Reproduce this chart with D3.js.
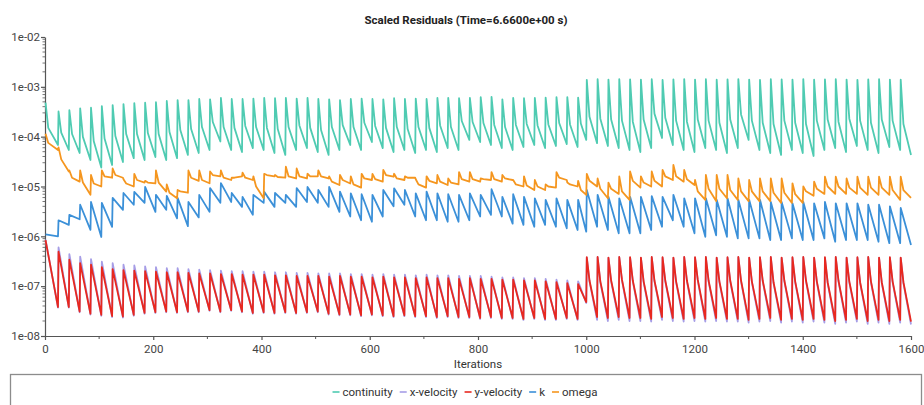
<!DOCTYPE html>
<html>
<head>
<meta charset="utf-8">
<script src="https://cdn.jsdelivr.net/npm/d3@7"></script>
<style>
  body { margin: 0; background: #fff; }
  svg { display: block; font-family: Roboto, "Open Sans", sans-serif; }
</style>
</head>
<body>
<div id="plot"></div>
<script>
// ---- data (one entry per time step) ----
// first iteration of every time step
const stepStart = [1, 25, 45, 65, 85, 105, 125, 145, 165, 185, 205, 225, 245, 265, 285, 305, 325, 345, 365, 385,
  405, 425, 445, 465, 485, 505, 525, 545, 565, 585, 605, 625, 645, 665, 685, 705, 725, 745, 765, 785,
  805, 825, 845, 865, 885, 905, 925, 945, 965, 985, 1001, 1021, 1041, 1061, 1081, 1101, 1121, 1141, 1161, 1181,
  1201, 1221, 1241, 1261, 1281, 1301, 1321, 1341, 1361, 1381, 1401, 1421, 1441, 1461, 1481, 1501, 1521, 1541, 1561, 1581];
const lastIter = 1600;

const seriesNames = ["continuity", "x-velocity", "y-velocity", "k", "omega"];
const xTicks = [0, 200, 400, 600, 800, 1000, 1200, 1400, 1600];
const yTicks = [1e-2, 1e-3, 1e-4, 1e-5, 1e-6, 1e-7, 1e-8];

// continuity
const contPeak = [4.8e-4, 3.2e-4, 3.4e-4, 3.7e-4, 3.8e-4, 4.1e-4, 4.3e-4, 4.5e-4, 4.7e-4, 4.8e-4,
  4.9e-4, 5.2e-4, 5.4e-4, 5.4e-4, 5.7e-4, 5.6e-4, 6.0e-4, 5.7e-4, 5.7e-4, 5.8e-4,
  6.0e-4, 5.9e-4, 6.0e-4, 5.8e-4, 6.0e-4, 5.7e-4, 5.6e-4, 5.4e-4, 5.7e-4, 5.8e-4,
  5.7e-4, 5.6e-4, 5.9e-4, 5.7e-4, 5.8e-4, 5.7e-4, 6.0e-4, 6.0e-4, 5.9e-4, 6.0e-4,
  6.2e-4, 6.3e-4, 5.6e-4, 6.0e-4, 5.9e-4, 6.0e-4, 6.1e-4, 6.2e-4, 6.2e-4, 6.1e-4,
  1.38e-3, 1.42e-3, 1.40e-3, 1.43e-3, 1.41e-3, 1.40e-3, 1.42e-3, 1.38e-3, 1.41e-3, 1.43e-3,
  1.40e-3, 1.42e-3, 1.39e-3, 1.41e-3, 1.43e-3, 1.40e-3, 1.38e-3, 1.42e-3, 1.41e-3, 1.40e-3,
  1.43e-3, 1.39e-3, 1.41e-3, 1.42e-3, 1.40e-3, 1.38e-3, 1.41e-3, 1.42e-3, 1.40e-3, 1.39e-3];
const contKnee = [1.5e-4, 1.2e-4, 1.13e-4, 9.9e-5, 8.2e-5, 9.2e-5, 1.03e-4, 1.13e-4, 1.13e-4, 1.18e-4,
  1.13e-4, 1.24e-4, 1.36e-4, 1.42e-4, 1.56e-4, 1.97e-4, 1.56e-4, 1.5e-4, 1.64e-4, 1.56e-4,
  1.5e-4, 1.42e-4, 1.56e-4, 1.68e-4, 1.5e-4, 1.36e-4, 1.56e-4, 1.7e-4, 1.56e-4, 1.9e-4,
  1.64e-4, 1.5e-4, 1.56e-4, 1.42e-4, 1.56e-4, 1.5e-4, 1.68e-4, 1.56e-4, 2.06e-4, 1.97e-4,
  1.88e-4, 1.72e-4, 1.56e-4, 1.72e-4, 1.8e-4, 1.68e-4, 1.76e-4, 1.88e-4, 1.76e-4, 1.84e-4,
  2.5e-4, 2.3e-4, 2.2e-4, 2.1e-4, 2.0e-4, 2.2e-4, 2.9e-4, 2.4e-4, 2.1e-4, 2.0e-4,
  2.2e-4, 2.1e-4, 1.9e-4, 2.2e-4, 2.8e-4, 2.1e-4, 1.9e-4, 1.8e-4, 2.1e-4, 1.9e-4,
  1.8e-4, 2.1e-4, 2.2e-4, 2.0e-4, 2.3e-4, 2.1e-4, 1.9e-4, 2.2e-4, 2.1e-4, 1.8e-4];
const contLow = [6.8e-5, 5.4e-5, 4.7e-5, 3.4e-5, 2.4e-5, 2.7e-5, 3.1e-5, 3.7e-5, 3.4e-5, 3.9e-5,
  3.4e-5, 3.7e-5, 4.3e-5, 4.7e-5, 5.4e-5, 8.0e-5, 5.4e-5, 4.9e-5, 5.9e-5, 5.4e-5,
  4.7e-5, 4.3e-5, 5.4e-5, 5.9e-5, 4.9e-5, 4.3e-5, 5.4e-5, 6.8e-5, 5.4e-5, 7.8e-5,
  5.9e-5, 4.9e-5, 5.4e-5, 4.7e-5, 5.4e-5, 4.9e-5, 5.9e-5, 5.4e-5, 8.6e-5, 7.8e-5,
  6.8e-5, 5.9e-5, 5.4e-5, 6.2e-5, 6.8e-5, 5.9e-5, 6.5e-5, 7.1e-5, 6.2e-5, 8.6e-5,
  7.4e-5, 6.5e-5, 5.9e-5, 5.4e-5, 4.9e-5, 5.9e-5, 9.4e-5, 6.8e-5, 5.4e-5, 4.9e-5,
  5.9e-5, 5.4e-5, 4.7e-5, 5.9e-5, 8.6e-5, 5.4e-5, 4.7e-5, 4.3e-5, 5.4e-5, 4.7e-5,
  4.1e-5, 5.4e-5, 5.9e-5, 4.9e-5, 6.5e-5, 5.4e-5, 4.7e-5, 6.2e-5, 5.4e-5, 4.3e-5];

// x-velocity
const vxPeak = [8.6e-7, 6.0e-7, 4.4e-7, 3.9e-7, 3.5e-7, 3.1e-7, 2.9e-7, 2.7e-7, 2.6e-7, 2.5e-7,
  2.4e-7, 2.3e-7, 2.3e-7, 2.2e-7, 2.15e-7, 2.1e-7, 2.05e-7, 2.0e-7, 2.0e-7, 1.95e-7,
  1.95e-7, 1.9e-7, 1.9e-7, 1.85e-7, 1.85e-7, 1.8e-7, 1.8e-7, 1.8e-7, 1.75e-7, 1.75e-7,
  1.7e-7, 1.75e-7, 1.7e-7, 1.7e-7, 1.65e-7, 1.7e-7, 1.65e-7, 1.65e-7, 1.6e-7, 1.6e-7,
  1.6e-7, 1.55e-7, 1.5e-7, 1.5e-7, 1.45e-7, 1.45e-7, 1.4e-7, 1.35e-7, 1.3e-7, 1.25e-7,
  3.75e-7, 3.8e-7, 3.7e-7, 3.8e-7, 3.75e-7, 3.7e-7, 3.8e-7, 3.75e-7, 3.7e-7, 3.8e-7,
  3.75e-7, 3.8e-7, 3.7e-7, 3.75e-7, 3.8e-7, 3.7e-7, 3.75e-7, 3.8e-7, 3.7e-7, 3.75e-7,
  3.8e-7, 3.7e-7, 3.75e-7, 3.8e-7, 3.7e-7, 3.75e-7, 3.8e-7, 3.7e-7, 3.75e-7, 3.7e-7];
const vxKnee = [1.25e-7, 1.2e-7, 1.25e-7, 1.3e-7, 1.25e-7, 1.2e-7, 1.25e-7, 1.25e-7, 1.2e-7, 1.25e-7,
  1.3e-7, 1.25e-7, 1.2e-7, 1.25e-7, 1.25e-7, 1.2e-7, 1.25e-7, 1.15e-7, 1.25e-7, 1.2e-7,
  1.25e-7, 1.2e-7, 1.15e-7, 1.25e-7, 1.2e-7, 1.15e-7, 1.2e-7, 1.15e-7, 1.2e-7, 1.15e-7];
const vxLow = [3.7e-8, 3.7e-8, 3.0e-8, 2.7e-8, 2.55e-8, 2.4e-8, 2.35e-8, 2.55e-8, 2.8e-8, 2.9e-8,
  3.0e-8, 2.9e-8, 3.0e-8, 3.0e-8, 3.2e-8, 3.0e-8, 3.2e-8, 3.0e-8, 2.8e-8, 2.9e-8,
  2.8e-8, 2.9e-8, 2.8e-8, 2.9e-8, 3.0e-8, 2.7e-8, 2.6e-8, 2.6e-8, 2.5e-8, 2.6e-8,
  2.5e-8, 2.4e-8, 2.5e-8, 2.4e-8, 2.4e-8, 2.3e-8, 2.4e-8, 2.3e-8, 2.3e-8, 2.2e-8,
  2.3e-8, 2.2e-8, 2.2e-8, 2.1e-8, 2.2e-8, 2.1e-8, 2.1e-8, 2.2e-8, 2.1e-8, 4.6e-8,
  2.1e-8, 2.0e-8, 2.1e-8, 2.0e-8, 2.0e-8, 1.95e-8, 2.1e-8, 2.0e-8, 1.95e-8, 2.0e-8,
  1.95e-8, 2.0e-8, 1.95e-8, 1.95e-8, 1.85e-8, 1.95e-8, 2.0e-8, 1.85e-8, 1.95e-8, 1.85e-8,
  1.95e-8, 1.85e-8, 1.75e-8, 1.85e-8, 1.95e-8, 1.75e-8, 1.85e-8, 1.75e-8, 1.85e-8, 1.7e-8];

// y-velocity
const vyPeak = [8.4e-7, 4.9e-7, 3.4e-7, 2.9e-7, 2.7e-7, 2.4e-7, 2.2e-7, 2.1e-7, 2.05e-7, 2.0e-7,
  1.95e-7, 1.9e-7, 1.9e-7, 1.85e-7, 1.8e-7, 1.8e-7, 1.75e-7, 1.75e-7, 1.7e-7, 1.7e-7,
  1.7e-7, 1.65e-7, 1.65e-7, 1.6e-7, 1.6e-7, 1.6e-7, 1.55e-7, 1.6e-7, 1.55e-7, 1.55e-7,
  1.5e-7, 1.55e-7, 1.5e-7, 1.5e-7, 1.45e-7, 1.5e-7, 1.45e-7, 1.45e-7, 1.4e-7, 1.45e-7,
  1.4e-7, 1.4e-7, 1.35e-7, 1.35e-7, 1.3e-7, 1.3e-7, 1.25e-7, 1.2e-7, 1.15e-7, 1.1e-7,
  3.8e-7, 3.85e-7, 3.75e-7, 3.85e-7, 3.8e-7, 3.75e-7, 3.85e-7, 3.8e-7, 3.75e-7, 3.85e-7,
  3.8e-7, 3.85e-7, 3.75e-7, 3.8e-7, 3.85e-7, 3.75e-7, 3.8e-7, 3.85e-7, 3.75e-7, 3.8e-7,
  3.85e-7, 3.75e-7, 3.8e-7, 3.85e-7, 3.75e-7, 3.8e-7, 3.85e-7, 3.75e-7, 3.8e-7, 3.75e-7];
const vyKnee = [1.3e-7, 1.25e-7, 1.3e-7, 1.35e-7, 1.3e-7, 1.25e-7, 1.3e-7, 1.3e-7, 1.25e-7, 1.3e-7,
  1.35e-7, 1.3e-7, 1.25e-7, 1.3e-7, 1.3e-7, 1.25e-7, 1.3e-7, 1.2e-7, 1.3e-7, 1.25e-7,
  1.3e-7, 1.25e-7, 1.2e-7, 1.3e-7, 1.25e-7, 1.2e-7, 1.25e-7, 1.2e-7, 1.25e-7, 1.2e-7];
const vyLow = [3.8e-8, 3.8e-8, 3.1e-8, 2.8e-8, 2.65e-8, 2.5e-8, 2.45e-8, 2.65e-8, 2.9e-8, 3.0e-8,
  3.1e-8, 3.0e-8, 3.1e-8, 3.1e-8, 3.3e-8, 3.1e-8, 3.3e-8, 3.1e-8, 2.9e-8, 3.0e-8,
  2.9e-8, 3.0e-8, 2.9e-8, 3.0e-8, 3.1e-8, 2.8e-8, 2.7e-8, 2.7e-8, 2.6e-8, 2.7e-8,
  2.6e-8, 2.5e-8, 2.6e-8, 2.5e-8, 2.5e-8, 2.4e-8, 2.5e-8, 2.4e-8, 2.4e-8, 2.3e-8,
  2.4e-8, 2.3e-8, 2.3e-8, 2.2e-8, 2.3e-8, 2.2e-8, 2.2e-8, 2.3e-8, 2.2e-8, 4.8e-8,
  2.4e-8, 2.3e-8, 2.4e-8, 2.3e-8, 2.3e-8, 2.2e-8, 2.4e-8, 2.3e-8, 2.2e-8, 2.3e-8,
  2.2e-8, 2.3e-8, 2.2e-8, 2.2e-8, 2.1e-8, 2.2e-8, 2.3e-8, 2.1e-8, 2.2e-8, 2.1e-8,
  2.2e-8, 2.1e-8, 2.0e-8, 2.1e-8, 2.2e-8, 2.0e-8, 2.1e-8, 2.0e-8, 2.1e-8, 1.95e-8];

// k
const kPeak = [1.1e-6, 2.1e-6, 2.7e-6, 4.3e-6, 4.9e-6, 4.7e-6, 5.9e-6, 7.4e-6, 7.8e-6, 9.8e-6,
  6.8e-6, 6.5e-6, 5.9e-6, 4.9e-6, 6.8e-6, 9.3e-6, 1.17e-5, 7.4e-6, 6.2e-6, 6.8e-6,
  7.8e-6, 7.4e-6, 6.8e-6, 9.3e-6, 9.8e-6, 8.5e-6, 9.8e-6, 7.9e-6, 7.3e-6, 7.0e-6,
  6.8e-6, 8.5e-6, 9.2e-6, 8.5e-6, 7.3e-6, 7.9e-6, 7.3e-6, 7.0e-6, 6.8e-6, 7.3e-6,
  6.8e-6, 8.8e-6, 6.2e-6, 7.0e-6, 6.2e-6, 5.8e-6, 5.4e-6, 5.8e-6, 5.4e-6, 5.4e-6,
  8.5e-6, 6.8e-6, 6.2e-6, 5.8e-6, 6.2e-6, 6.2e-6, 6.4e-6, 6.2e-6, 6.8e-6, 5.8e-6,
  5.8e-6, 5.8e-6, 5.4e-6, 5.8e-6, 5.4e-6, 5.4e-6, 5.4e-6, 4.9e-6, 4.9e-6, 4.6e-6,
  4.9e-6, 4.6e-6, 4.9e-6, 4.6e-6, 4.6e-6, 4.6e-6, 4.3e-6, 4.3e-6, 4.0e-6, 3.7e-6];
const kLow = [1.0e-6, 1.7e-6, 2.2e-6, 1.35e-6, 9.7e-7, 1.55e-6, 3.4e-6, 4.3e-6, 4.7e-6, 3.1e-6,
  3.4e-6, 2.3e-6, 1.6e-6, 2.4e-6, 3.1e-6, 4.7e-6, 4.9e-6, 3.9e-6, 2.7e-6, 4.7e-6,
  3.9e-6, 4.7e-6, 3.9e-6, 4.9e-6, 4.7e-6, 3.9e-6, 3.1e-6, 2.5e-6, 2.1e-6, 1.96e-6,
  2.5e-6, 4.0e-6, 4.3e-6, 2.5e-6, 2.1e-6, 2.1e-6, 1.96e-6, 1.96e-6, 2.1e-6, 2.5e-6,
  2.7e-6, 2.5e-6, 1.8e-6, 1.7e-6, 1.56e-6, 1.7e-6, 1.56e-6, 1.45e-6, 1.34e-6, 1.24e-6,
  1.56e-6, 1.34e-6, 1.15e-6, 1.15e-6, 1.15e-6, 1.34e-6, 1.56e-6, 2.1e-6, 1.56e-6, 1.15e-6,
  9.8e-7, 1.05e-6, 9.8e-7, 9.1e-7, 9.1e-7, 9.1e-7, 8.4e-7, 8.4e-7, 9.1e-7, 8.4e-7,
  8.4e-7, 9.1e-7, 7.8e-7, 8.4e-7, 8.4e-7, 8.4e-7, 7.8e-7, 7.3e-7, 7.3e-7, 6.7e-7];

// omega
const omPeak = [1.15e-4, 6.1e-5, 2.1e-5, 2.1e-5, 1.7e-5, 2.1e-5, 2.3e-5, 1.4e-5, 1.8e-5, 1.3e-5,
  2.1e-5, 1.1e-5, 8.5e-6, 2.1e-5, 2.1e-5, 2.0e-5, 2.1e-5, 1.5e-5, 1.9e-5, 1.6e-5,
  1.8e-5, 1.7e-5, 2.5e-5, 2.3e-5, 1.8e-5, 2.1e-5, 1.6e-5, 1.7e-5, 1.6e-5, 1.8e-5,
  1.8e-5, 2.15e-5, 1.8e-5, 1.6e-5, 1.4e-5, 1.6e-5, 1.7e-5, 1.45e-5, 1.95e-5, 1.95e-5,
  1.45e-5, 1.95e-5, 1.7e-5, 1.35e-5, 1.6e-5, 1.35e-5, 1.1e-5, 1.95e-5, 1.2e-5, 1.3e-5,
  1.8e-5, 1.45e-5, 1.2e-5, 1.6e-5, 2.0e-5, 1.6e-5, 2.0e-5, 2.15e-5, 2.7e-5, 2.15e-5,
  1.35e-5, 1.7e-5, 1.7e-5, 1.7e-5, 1.45e-5, 1.35e-5, 1.45e-5, 1.45e-5, 1.45e-5, 1.16e-5,
  1.0e-5, 1.25e-5, 1.57e-5, 1.57e-5, 1.45e-5, 1.57e-5, 1.57e-5, 1.57e-5, 1.57e-5, 1.57e-5];
const omKnee = [7.5e-5, 3.5e-5, 1.5e-5, 1.2e-5, 1.15e-5, 1.6e-5, 1.7e-5, 1.15e-5, 1.35e-5, 1.2e-5,
  1.2e-5, 7.5e-6, 8e-6, 1.5e-5, 1.35e-5, 1.7e-5, 1.5e-5, 1.5e-5, 1.5e-5, 1.0e-5,
  1.7e-5, 1.55e-5, 1.6e-5, 1.6e-5, 1.6e-5, 1.6e-5, 1.25e-5, 1.35e-5, 1.1e-5, 1.45e-5,
  1.4e-5, 1.7e-5, 1.45e-5, 1.5e-5, 1.1e-5, 1.3e-5, 1.25e-5, 1.2e-5, 1.4e-5, 1.4e-5,
  1.4e-5, 1.4e-5, 1.45e-5, 1.1e-5, 1.05e-5, 1.0e-5, 1.0e-5, 1.5e-5, 1.1e-5, 8.5e-6,
  1.3e-5, 9e-6, 9e-6, 8e-6, 1.3e-5, 1.2e-5, 1.3e-5, 1.6e-5, 1.6e-5, 1.4e-5,
  8e-6, 9e-6, 9e-6, 8.5e-6, 8e-6, 8e-6, 8e-6, 7.5e-6, 7.5e-6, 7e-6,
  8e-6, 9e-6, 1.0e-5, 1.0e-5, 9.5e-6, 9.5e-6, 9.5e-6, 9.5e-6, 8.5e-6, 8.5e-6];
const omLow = [5.4e-5, 2.0e-5, 1.25e-5, 6.8e-6, 1.0e-5, 1.5e-5, 1.5e-5, 1.0e-5, 1.2e-5, 1.15e-5,
  7.9e-6, 5.8e-6, 7.5e-6, 1.3e-5, 1.16e-5, 1.6e-5, 1.35e-5, 1.6e-5, 1.35e-5, 5.8e-6,
  1.6e-5, 1.5e-5, 1.45e-5, 1.45e-5, 1.6e-5, 1.45e-5, 1.07e-5, 1.15e-5, 9.5e-6, 1.35e-5,
  1.25e-5, 1.57e-5, 1.35e-5, 1.5e-5, 9.5e-6, 1.16e-5, 1.07e-5, 1.1e-5, 1.25e-5, 1.25e-5,
  1.35e-5, 1.25e-5, 1.35e-5, 1.0e-5, 8.5e-6, 8.5e-6, 9.5e-6, 1.35e-5, 1.0e-5, 6.8e-6,
  1.0e-5, 5.8e-6, 7.1e-6, 5.4e-6, 9.5e-6, 1.0e-5, 1.0e-5, 1.35e-5, 1.25e-5, 1.07e-5,
  5.4e-6, 5.1e-6, 5.8e-6, 5.4e-6, 5.1e-6, 5.1e-6, 5.1e-6, 4.7e-6, 4.7e-6, 4.7e-6,
  6.5e-6, 7.1e-6, 7.1e-6, 7.1e-6, 7.1e-6, 6.8e-6, 6.8e-6, 6.8e-6, 5.4e-6, 5.9e-6];

const seriesColors = ["#4fcbb2", "#a69de6", "#e8281f", "#3b90d8", "#f5961f"];

// ---- layout ----
var width = 924, height = 405;
var margin = {left: 45, right: 13, top: 37, bottom: 69};

var svg = d3.select("#plot").append("svg")
    .attr("width", width)
    .attr("height", height);

var x = d3.scaleLinear().domain([0, lastIter]).range([margin.left, width - margin.right]);
var y = d3.scaleLog().domain([1e-8, 1e-2]).range([height - margin.bottom, margin.top]);

// peak at step start, optional knee 5 iterations later, low at step end
function buildPoints(peak, low, knee, kneeFrom) {
    var pts = [];
    stepStart.forEach(function(s, i) {
        var end = i < stepStart.length - 1 ? stepStart[i + 1] - 1 : lastIter;
        pts.push([s, peak[i]]);
        if (knee && i >= kneeFrom && knee[i - kneeFrom] != null)
            pts.push([s + 5, knee[i - kneeFrom]]);
        pts.push([end, low[i]]);
    });
    return pts;
}

var series = [
    buildPoints(contPeak, contLow, contKnee, 0),
    buildPoints(vxPeak, vxLow, vxKnee, 50),
    buildPoints(vyPeak, vyLow, vyKnee, 50),
    buildPoints(kPeak, kLow, null, 0),
    buildPoints(omPeak, omLow, omKnee, 0)
];

var fontSize = "11.5px";

// title
svg.append("text")
    .attr("x", 466).attr("y", 24)
    .attr("text-anchor", "middle")
    .style("font-size", fontSize).style("font-weight", "bold").style("fill", "#222")
    .text("Scaled Residuals (Time=6.6600e+00 s)");

// axes
var axisColor = "#555";
var xAxis = d3.axisBottom(x).tickValues(xTicks).tickSize(4).tickSizeOuter(0).tickFormat(d3.format("d"));
var gx = svg.append("g")
    .attr("transform", "translate(0," + y(1e-8) + ")")
    .call(xAxis);
// minor x ticks
svg.append("g").selectAll("line")
    .data(d3.range(100, lastIter, 200))
    .enter().append("line")
    .attr("x1", function(d) { return x(d); }).attr("x2", function(d) { return x(d); })
    .attr("y1", y(1e-8)).attr("y2", y(1e-8) + 3)
    .style("stroke", axisColor);

function expFormat(d) {
    var e = Math.round(Math.log10(d));
    return "1e" + (e < 0 ? "-" : "+") + String(Math.abs(e)).padStart(2, "0");
}
var yAxis = d3.axisLeft(y).tickValues(yTicks).tickSize(4).tickSizeOuter(0).tickFormat(expFormat);
var gy = svg.append("g")
    .attr("transform", "translate(" + x(0) + ",0)")
    .call(yAxis);
// minor y ticks
var minors = [];
yTicks.slice(1).forEach(function(t) {
    for (var m = 2; m <= 9; m++) minors.push(t * m);
});
svg.append("g").selectAll("line")
    .data(minors)
    .enter().append("line")
    .attr("x1", x(0) - 2.5).attr("x2", x(0))
    .attr("y1", function(d) { return y(d); }).attr("y2", function(d) { return y(d); })
    .style("stroke", axisColor).style("stroke-width", 0.8);

svg.selectAll(".domain, .tick line").style("stroke", axisColor).style("stroke-width", 1.2);
svg.selectAll(".tick text").style("font-size", fontSize).style("fill", "#444")
    .style("font-family", "Roboto, sans-serif");
gx.selectAll(".tick text").attr("dy", "0.85em");
gy.selectAll(".tick text").attr("x", -5);

svg.append("text")
    .attr("x", (x(0) + x(lastIter)) / 2).attr("y", 368)
    .attr("text-anchor", "middle")
    .style("font-size", fontSize).style("fill", "#333")
    .text("Iterations");

// lines
var line = d3.line()
    .x(function(d) { return x(d[0]); })
    .y(function(d) { return y(d[1]); });

svg.append("g").selectAll("path")
    .data(series)
    .enter().append("path")
    .attr("d", line)
    .style("fill", "none")
    .style("stroke", function(d, i) { return seriesColors[i]; })
    .style("stroke-width", 1.8)
    .style("stroke-linejoin", "round");

// legend
svg.append("rect")
    .attr("x", 10.5).attr("y", 374.5)
    .attr("width", 911).attr("height", 40)
    .style("fill", "#fff").style("stroke", "#8c8c8c").style("stroke-width", 1.3);

var legend = svg.append("g");
var lx = 0;
seriesNames.forEach(function(name, i) {
    var item = legend.append("g").attr("transform", "translate(" + lx + ",0)");
    item.append("line")
        .attr("x1", 0).attr("x2", 7).attr("y1", 392).attr("y2", 392)
        .style("stroke", seriesColors[i]).style("stroke-width", 1.6);
    var t = item.append("text")
        .attr("x", 10).attr("y", 396)
        .style("font-size", fontSize).style("fill", "#333")
        .text(name);
    lx += 10 + t.node().getComputedTextLength() + 7;
});
var legendW = lx - 7;
legend.attr("transform", "translate(" + (465 - legendW / 2) + ",0)");
</script>
</body>
</html>
